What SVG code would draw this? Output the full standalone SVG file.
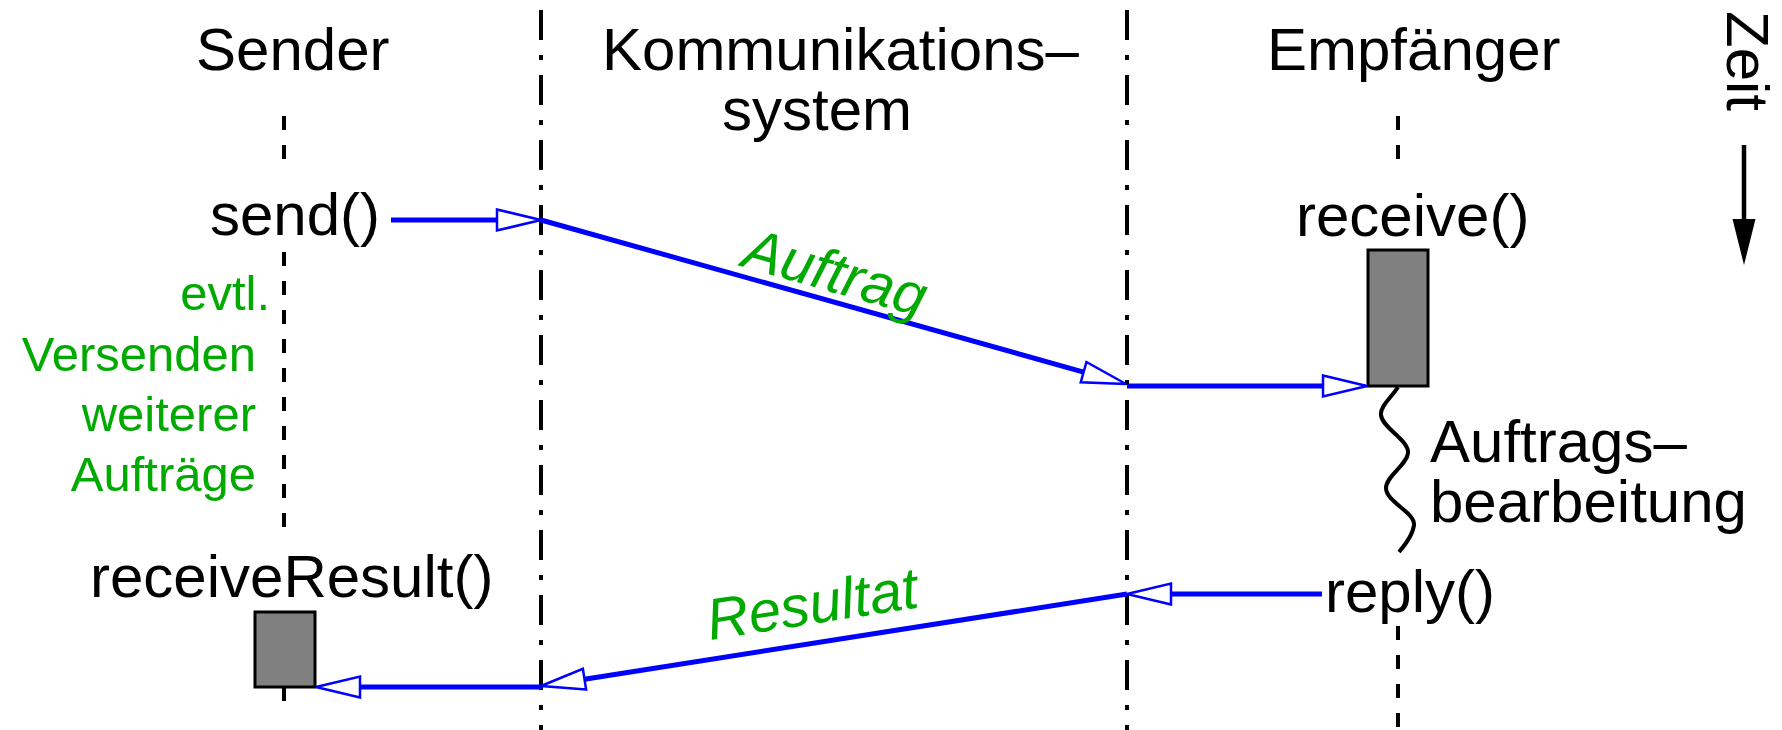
<svg xmlns="http://www.w3.org/2000/svg" width="1782" height="730" viewBox="0 0 1782 730">
  <defs>
    <style>
      .t { font-family: "Liberation Sans", Arial, sans-serif; font-size: 60px; fill: #000; }
      .note { font-family: "Liberation Sans", Arial, sans-serif; font-size: 49px; fill: #00aa00; text-anchor: end; }
      .msg { font-family: "Liberation Sans", Arial, sans-serif; font-size: 58px; font-style: italic; fill: #00aa00; }
      .border { stroke: #000; stroke-width: 4; stroke-dasharray: 30 15 5 15; fill: none; }
      .life { stroke: #000; stroke-width: 4; stroke-dasharray: 14 15; fill: none; }
      .act { fill: #808080; stroke: #000; stroke-width: 3; }
      .flow { stroke: #0000ff; stroke-width: 5; fill: none; marker-end: url(#open); }
    </style>
    <!-- open arrowhead, drawn from its base (0,0) out to the tip -->
    <marker id="open" markerUnits="userSpaceOnUse" refX="0" refY="0" orient="auto" overflow="visible" markerWidth="1" markerHeight="1">
      <path d="M0,-10.5 L44,0 L0,10.5 Z" fill="#fff" stroke="#0000ff" stroke-width="2.5"/>
    </marker>
  </defs>

  <rect width="1782" height="730" fill="#fff"/>

  <!-- system borders -->
  <g id="borders">
    <path class="border" d="M541,10 V730"/>
    <path class="border" d="M1127,10 V730"/>
  </g>

  <!-- Sender -->
  <g id="sender">
    <text class="t" x="196" y="70">Sender</text>
    <path class="life" d="M284,116 V162 M284,252 V536 M284,687 V702"/>
    <text class="t" x="210" y="235">send()</text>
    <text class="t" x="90" y="597">receiveResult()</text>
    <rect class="act" x="255" y="612" width="60" height="75"/>
  </g>

  <g id="sender-note">
    <text class="note" x="270" y="310">evtl.</text>
    <text class="note" x="256" y="371">Versenden</text>
    <text class="note" x="256" y="431">weiterer</text>
    <text class="note" x="256" y="491">Aufträge</text>
  </g>

  <!-- Communication system -->
  <g id="kommunikationssystem">
    <text class="t" x="602" y="70">Kommunikations–</text>
    <text class="t" x="722" y="130">system</text>
  </g>

  <!-- Receiver -->
  <g id="empfaenger">
    <text class="t" x="1267" y="70">Empfänger</text>
    <path class="life" d="M1398,116 V162 M1398,626 V730"/>
    <text class="t" x="1296" y="236">receive()</text>
    <rect class="act" x="1368" y="250" width="60" height="136"/>
    <path d="M1398,387 C1392,397 1380,406 1381,415 C1382,428 1409,440 1408,453 C1407,465 1386,476 1386,488 C1386,502 1415,512 1414,525 C1413,535 1405,545 1399,552" fill="none" stroke="#000" stroke-width="4"/>
    <text class="t" x="1430" y="462">Auftrags–</text>
    <text class="t" x="1430" y="522">bearbeitung</text>
    <text class="t" x="1325" y="612">reply()</text>
  </g>

  <!-- time axis -->
  <g id="zeit">
    <text class="t" transform="translate(1727,11) rotate(90)">Zeit</text>
    <path d="M1744,145 V222" stroke="#000" stroke-width="4.5" fill="none"/>
    <path d="M1732.5,219 L1755.5,219 L1744,265 Z" fill="#000"/>
  </g>

  <!-- messages -->
  <g id="connectors">
    <path class="flow" d="M391,220 H497"/>
    <path class="flow" d="M541,220 L1083.6,372.1"/>
    <path class="flow" d="M1127,386 H1323"/>
    <path class="flow" d="M1322,594 H1171"/>
    <path class="flow" d="M1127,594 L584.5,679.2"/>
    <path class="flow" d="M541,687 H360"/>
    <text class="msg" transform="translate(740,266) rotate(15.8)">Auftrag</text>
    <text class="msg" transform="translate(710,640) rotate(-8.9)">Resultat</text>
  </g>
</svg>
